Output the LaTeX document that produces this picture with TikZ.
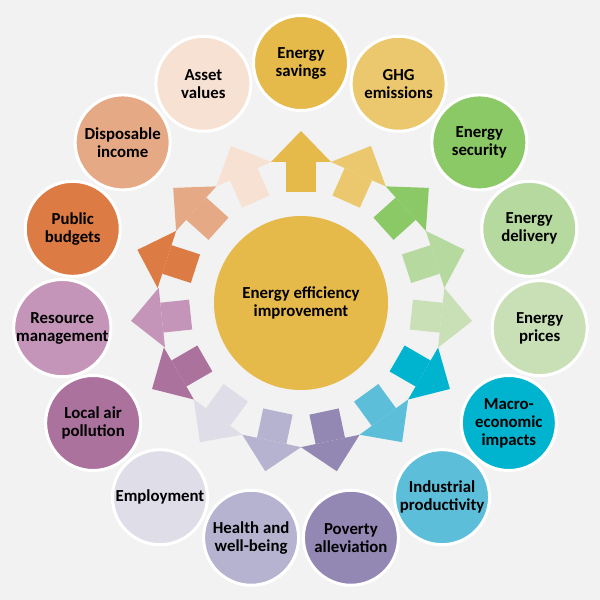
\documentclass[tikz,border=0pt]{standalone}
\usepackage{fontspec}
\setmainfont{Carlito}
\usetikzlibrary{arrows.meta}

\definecolor{bg}{HTML}{F2F2F2}
\definecolor{savings}{HTML}{E6B94B}
\definecolor{ghg}{HTML}{EBC76E}
\definecolor{security}{HTML}{8BC866}
\definecolor{delivery}{HTML}{B5D99E}
\definecolor{prices}{HTML}{C9E0B6}
\definecolor{macro}{HTML}{00B4D0}
\definecolor{industry}{HTML}{5CBED9}
\definecolor{poverty}{HTML}{9387B4}
\definecolor{health}{HTML}{B5B3CF}
\definecolor{employ}{HTML}{DFDEE8}
\definecolor{airpol}{HTML}{AB729D}
\definecolor{resource}{HTML}{C495B8}
\definecolor{budgets}{HTML}{DC7B44}
\definecolor{income}{HTML}{E6A985}
\definecolor{assets}{HTML}{F7E1D3}

\begin{document}
\begin{tikzpicture}[x=1pt,y=1pt,
    hub/.style={circle,fill=savings,minimum size=174pt,inner sep=0pt,outer sep=0pt,
      font=\bfseries\fontsize{16.8}{18}\selectfont,align=center},
    topic/.style={circle,draw=white,line width=3pt,minimum size=95pt,inner sep=0pt,
      font=\bfseries\fontsize{16.8}{18}\selectfont,align=center},
    link/.style={line width=30pt,-{Triangle[length=31pt,width=60pt,line width=0pt]},
      shorten <=24pt,shorten >=19pt}]
  \fill[bg] (-301,-297) rectangle (299,303);
  \node[hub] (eei) at (0,0) {Energy efficiency\\improvement};
  \foreach \i/\col/\txt in {1/savings/{Energy\\savings}, 2/ghg/{GHG\\emissions},
      3/security/{Energy\\security}, 4/delivery/{Energy\\delivery},
      5/prices/{Energy\\prices}, 6/macro/{Macro-\\economic\\impacts},
      7/industry/{Industrial\\productivity}, 8/poverty/{Poverty\\alleviation},
      9/health/{Health and\\well-being}, 10/employ/{Employment},
      11/airpol/{Local air\\pollution}, 12/resource/{Resource\\management},
      13/budgets/{Public\\budgets}, 14/income/{Disposable\\income},
      15/assets/{Asset\\values}}
  {
    \node[topic,fill=\col] (t\i) at ({90-24*(\i-1)}:240) {\txt};
    \path[link] (eei) edge[draw=\col] (t\i);
  }
\end{tikzpicture}
\end{document}
